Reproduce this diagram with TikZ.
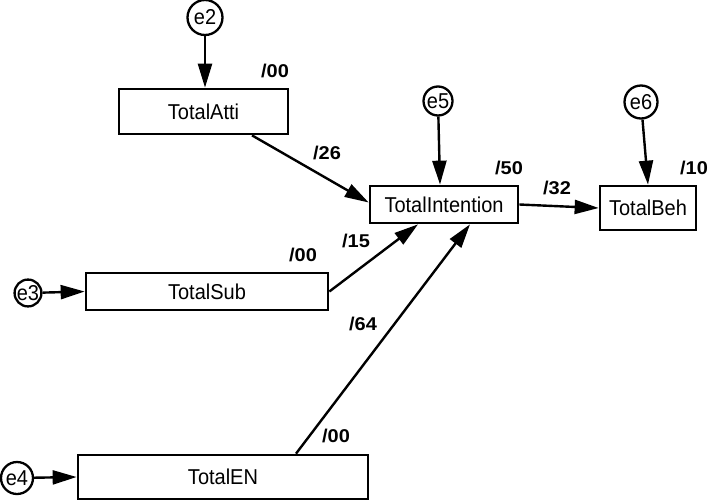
\documentclass[tikz,border=0pt]{standalone}
\usepackage{fontspec}
\setmainfont{Liberation Sans}
\newfontfamily\boxfont[FakeStretch=0.93]{Liberation Sans}
\newfontfamily\lblfont[FakeStretch=1.08]{Liberation Sans}
\usetikzlibrary{arrows.meta}
\begin{document}
\begin{tikzpicture}[x=1pt,y=-1pt,
  box/.style={draw,line width=2.7pt,inner sep=0pt,font=\boxfont\fontsize{21.5}{23}\selectfont},
  err/.style={draw,circle,line width=2.3pt,inner sep=0pt,font=\boxfont\fontsize{21.5}{23}\selectfont},
  lbl/.style={inner sep=0pt,font=\lblfont\fontsize{18.5}{21}\selectfont\bfseries},
  arr/.style={line width=2.4pt,-{Triangle[length=24pt,width=14pt]}}]
\useasboundingbox (0,0) rectangle (708,501);
% boxes
\node[box,minimum width=169pt,minimum height=45pt] (atti) at (203.5,111.5) {TotalAtti};
\node[box,minimum width=148pt,minimum height=37pt] (intent) at (444,204.5) {TotalIntention};
\node[box,minimum width=96pt,minimum height=44pt] (beh) at (648,208) {TotalBeh};
\node[box,minimum width=242pt,minimum height=37pt] (sub) at (207,291.5) {TotalSub};
\node[box,minimum width=290pt,minimum height=44pt] (en) at (223,477) {TotalEN};
% error terms
\node[err,minimum size=35pt] (e2) at (205,17.5) {e2};
\node[err,minimum size=29pt] (e5) at (438,101) {e5};
\node[err,minimum size=33pt] (e6) at (641,102) {e6};
\node[err,minimum size=25pt] (e3) at (28,293) {e3};
\node[err,minimum size=32pt] (e4) at (17,478) {e4};
% labels
\node[lbl] (l1) at (275,71) {/00};
\node[lbl] (l2) at (327,153) {/26};
\node[lbl] (l3) at (509,168) {/50};
\node[lbl] (l4) at (557,188) {/32};
\node[lbl] (l5) at (694,168) {/10};
\node[lbl] (l6) at (303,255) {/00};
\node[lbl] (l7) at (356,241) {/15};
\node[lbl] (l8) at (363,324) {/64};
\node[lbl] (l9) at (336,436) {/00};
% connectors
\draw[arr] (e2) -- (e2 |- atti.north);
\draw[arr] (e5) -- ([xshift=-4pt]intent.north);
\draw[arr] (e6) -- (beh.north);
\draw[arr] (e3) -- (sub.west);
\draw[arr] (e4) -- (en.west);
\draw[arr] ([xshift=48.5pt]atti.south) -- ([yshift=2pt]intent.west);
\draw[arr] (sub.east) -- ([xshift=-26pt]intent.south);
\draw[arr] ([xshift=73pt]en.north) -- ([xshift=26pt]intent.south);
\draw[arr] (intent.east) -- (beh.west);
\end{tikzpicture}
\end{document}
